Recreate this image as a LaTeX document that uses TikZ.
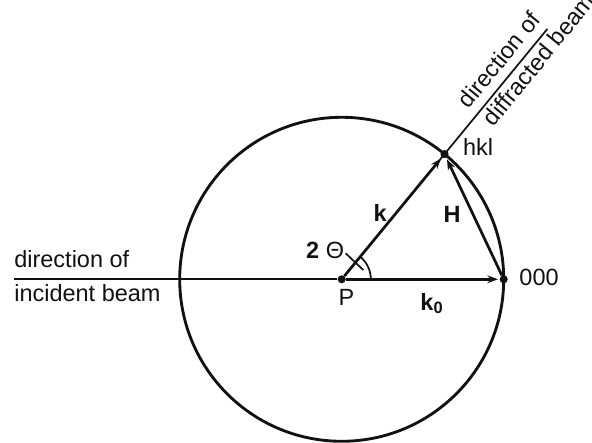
\documentclass[tikz,border=0pt]{standalone}
\usepackage{fontspec}
\setmainfont{Liberation Sans}
\usetikzlibrary{positioning,arrows.meta,calc}
\definecolor{InkBlack}{RGB}{17,17,17}
\tikzset{
  vec/.style={-{Stealth[length=2.6mm,width=1.9mm]},line width=1.9pt,draw=InkBlack,shorten >=1pt},
  dirline/.style={line width=1.2pt,draw=InkBlack},
  sphere/.style={line width=2pt,draw=InkBlack},
  dot/.style={circle,fill=InkBlack,inner sep=0pt,minimum size=2mm},
  lbl/.style={inner sep=1pt,font=\fontsize{16.5}{19}\selectfont,text=InkBlack},
  beamlbl/.style={lbl,rotate=50.6}
}

\begin{document}
\begin{tikzpicture}
  \useasboundingbox (-8.437,-4.042) rectangle (6.180,6.896);
  \node[dot] (P) at (0,0) {};
  \node[dot] (hkl) at (50.6:4) {};
  \node[dot] (O) at (4,0) {};
  \coordinate (inc) at (-8.09,0);
  \coordinate (diff) at (50.6:8);
  \coordinate (tick) at (23.3:0.58);
  \draw[sphere] (P.center) circle[radius=4cm];
  \draw[dirline] (inc) -- (P);
  \draw[dirline] (P) -- (diff);
  \draw[vec] (P) -- (O) node[lbl,pos=0.56,below=0.27cm] (k0lbl) {\textbf{k\textsubscript{0}}};
  \draw[vec] (P) -- (hkl) node[lbl,pos=0.465,xshift=-0.235cm,yshift=0.194cm] (klbl) {\textbf{k}};
  \draw[vec] (O) -- (hkl) node[lbl,pos=0.592,xshift=-0.42cm,yshift=-0.199cm] (Hlbl) {\textbf{H}};
  \draw[dirline] ([xshift=0.72cm]P.center) arc[start angle=0,end angle=50.6,radius=0.72cm];
  \node[lbl] (ang) at (-0.41,0.72) {\textbf{2} Θ};
  \draw[dirline] ([yshift=-0.08cm]ang.east) -- (tick);
  \node[lbl,below=0.11cm of P,xshift=0.12cm] (Plbl) {P};
  \node[lbl,right=0.24cm of O,yshift=0.05cm] (Olbl) {000};
  \node[lbl,right=0.31cm of hkl,yshift=0.18cm] (hkllbl) {hkl};
  \node[lbl,above right=0.27cm and 0cm of inc,inner sep=0pt] (inc1) {direction of};
  \node[lbl,below right=0.12cm and 0cm of inc,inner sep=0pt] (inc2) {incident beam};
  \node[beamlbl,anchor=south,inner sep=0.22cm] (diff1) at (50.6:6.65) {direction of};
  \node[beamlbl,anchor=north,inner sep=0.09cm] (diff2) at (50.6:7.28) {diffracted beam};
\end{tikzpicture}
\end{document}
